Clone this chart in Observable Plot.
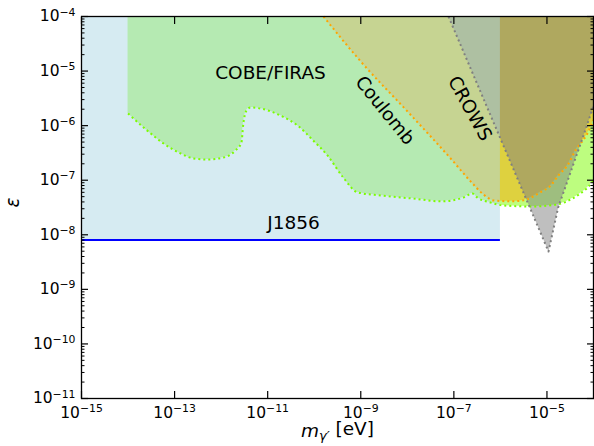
<!DOCTYPE html>
<html>
<head>
<meta charset="utf-8">
<script src="https://cdn.jsdelivr.net/npm/d3@7"></script>
<script src="https://cdn.jsdelivr.net/npm/@observablehq/plot@0.6"></script>
<style>
  body { margin: 0; background: #fff; }
  #chart svg { font-family: "DejaVu Sans", sans-serif; }
</style>
</head>
<body>
<div id="chart"></div>
<script>
// Dark photon limits: kinetic mixing ε versus mass m_γ' (eV)

// COBE/FIRAS lower boundary of the excluded region
const cobeMass = [1.0e-14, 2.6e-14, 5.8e-14, 1.34e-13, 2.55e-13, 5.1e-13, 1.12e-12, 2.03e-12, 2.73e-12,
  3.0e-12, 3.5e-12, 4.3e-12, 7.0e-12, 1.88e-11, 4.4e-11, 9.6e-11, 1.93e-10, 4.2e-10, 8.5e-10,
  2.65e-9, 1.36e-8, 5.2e-8, 1.6e-7, 2.5e-7, 3.2e-7, 6.1e-7, 1.16e-6, 4.4e-6, 1.68e-5, 3.5e-5,
  5.2e-5, 7.4e-5, 1.0e-4];
const cobeEps = [1.67e-6, 8.1e-7, 4.7e-7, 3.1e-7, 2.5e-7, 2.4e-7, 2.6e-7, 3.5e-7, 4.9e-7,
  1.09e-6, 1.89e-6, 2.15e-6, 2.06e-6, 1.53e-6, 1.0e-6, 5.3e-7, 2.84e-7, 1.12e-7, 6.0e-8,
  5.25e-8, 4.6e-8, 4.1e-8, 4.8e-8, 5.7e-8, 4.8e-8, 3.9e-8, 3.45e-8, 3.3e-8, 3.6e-8, 4.6e-8,
  5.7e-8, 7.3e-8, 9.9e-8];

// Coulomb-law test boundary
const coulombMass = [1.58e-10, 1.04e-9, 1.06e-8, 8.9e-8, 2.4e-7, 4.3e-7, 7.1e-7, 1.66e-6, 3.1e-6,
  7.2e-6, 1.19e-5, 1.77e-5, 2.75e-5, 4.1e-5, 7.4e-5, 1.0e-4];
const coulombEps = [1.0e-4, 1.44e-5, 1.74e-6, 2.4e-7, 9.1e-8, 5.5e-8, 4.27e-8, 4.1e-8, 4.27e-8,
  6.0e-8, 7.9e-8, 1.23e-7, 1.86e-7, 3.5e-7, 7.2e-7, 1.26e-6];

// CROWS light-shining-through-a-wall boundary (V shape)
const crowsMass = [7.66e-8, 1.08e-5, 1.74e-5, 5.9e-5, 1.0e-4];
const crowsEps = [1.0e-4, 4.94e-9, 3.16e-8, 6.1e-7, 2.3e-6];

// J1856 bound: constant ε below a maximum mass
const j1856Mass = [1e-15, 1e-6];
const j1856Eps = 8e-9;

// Region labels
const labelText = ["COBE/FIRAS", "Coulomb", "CROWS", "J1856"];
const labelMass = [1.15e-11, 3.3e-9, 2.2e-7, 3.6e-11];
const labelEps = [9.3e-6, 1.9e-6, 2.06e-6, 1.65e-8];
const labelAngle = [0, 51, 61, 0];

// Axis ticks
const xTicks = [1e-15, 1e-13, 1e-11, 1e-9, 1e-7, 1e-5];
const yTicks = [1e-11, 1e-10, 1e-9, 1e-8, 1e-7, 1e-6, 1e-5, 1e-4];
const yMinor = d3.range(-11, -4).flatMap(e => d3.range(2, 10).map(k => k * 10 ** e));

const xMin = 1e-15, xMax = 1e-4, yMin = 1e-11, yMax = 1e-4;

const cobe = cobeMass.map((m, i) => ({m, eps: cobeEps[i]}));
const coulomb = coulombMass.map((m, i) => ({m, eps: coulombEps[i]}));
const crows = crowsMass.map((m, i) => ({m, eps: crowsEps[i]}));
const crowsShape = [...crows, {m: xMax, eps: yMax}];
const labels = labelText.map((t, i) => ({t, m: labelMass[i], eps: labelEps[i], a: labelAngle[i]}));

const expo = v => String(Math.round(Math.log10(v))).replace("-", "\u2212");
const blank = () => "";
const dotted = {strokeWidth: 2, strokeDasharray: "2,3", strokeLinecap: "butt"};

const chart = Plot.plot({
  width: 594,
  height: 446,
  marginLeft: 81,
  marginRight: 1,
  marginTop: 16,
  marginBottom: 48,
  style: {fontFamily: "DejaVu Sans", fontSize: "15.5px", color: "black", background: "white", overflow: "visible"},
  x: {type: "log", domain: [xMin, xMax], axis: null},
  y: {type: "log", domain: [yMin, yMax], axis: null},
  marks: [
    Plot.areaY(cobe, {x: "m", y1: "eps", y2: yMax, fill: "#7cfc00", fillOpacity: 0.5, curve: "monotone-x"}),
    Plot.areaY(coulomb, {x: "m", y1: "eps", y2: yMax, fill: "#ffa500", fillOpacity: 0.5, curve: "monotone-x"}),
    Plot.line(crowsShape, {x: "m", y: "eps", fill: "#808080", fillOpacity: 0.5, stroke: null}),
    Plot.rect([j1856Eps], {x1: j1856Mass[0], x2: j1856Mass[1], y1: d => d, y2: yMax, fill: "#add8e6", fillOpacity: 0.5}),
    Plot.line(cobe, {x: "m", y: "eps", stroke: "#7cfc00", curve: "monotone-x", ...dotted}),
    Plot.line(coulomb, {x: "m", y: "eps", stroke: "#ffa500", curve: "monotone-x", ...dotted}),
    Plot.line(crows, {x: "m", y: "eps", stroke: "#808080", ...dotted}),
    Plot.ruleY([j1856Eps], {x1: j1856Mass[0], x2: j1856Mass[1], stroke: "#0000ff", strokeWidth: 2}),
    Plot.text(labels, {x: "m", y: "eps", text: "t", rotate: "a", fontSize: 18.5, fill: "black", textAnchor: "middle", lineAnchor: "middle"}),
    // inward ticks on all four sides
    Plot.axisX({anchor: "bottom", ticks: xTicks, tickSize: -7, tickFormat: blank, label: null, strokeWidth: 1.2}),
    Plot.axisX({anchor: "top", ticks: xTicks, tickSize: -7, tickFormat: blank, label: null, strokeWidth: 1.2}),
    Plot.axisY({anchor: "left", ticks: yTicks, tickSize: -7, tickFormat: blank, label: null, strokeWidth: 1.2}),
    Plot.axisY({anchor: "right", ticks: yTicks, tickSize: -7, tickFormat: blank, label: null, strokeWidth: 1.2}),
    Plot.axisY({anchor: "left", ticks: yMinor, tickSize: -3.5, tickFormat: blank, label: null, strokeWidth: 1}),
    Plot.axisY({anchor: "right", ticks: yMinor, tickSize: -3.5, tickFormat: blank, label: null, strokeWidth: 1}),
    // tick labels
    Plot.axisX({anchor: "bottom", ticks: xTicks, tickSize: 0, tickPadding: 8, tickFormat: expo, label: null}),
    Plot.axisY({anchor: "left", ticks: yTicks, tickSize: 0, tickPadding: 6, tickFormat: expo, label: null}),
    // axis titles
    Plot.text(["m"], {frameAnchor: "bottom", dy: 38, fontSize: 18.5, fill: "black"}),
    Plot.text(["ε"], {frameAnchor: "left", dx: -68, rotate: -90, fontSize: 18.5, fontStyle: "italic", fill: "black"}),
    Plot.frame({stroke: "black", strokeWidth: 1.3})
  ]
});

document.getElementById("chart").appendChild(chart);

// tick labels as powers of ten with raised exponents
d3.select(chart)
  .selectAll('g[aria-label="x-axis tick label"] text, g[aria-label="y-axis tick label"] text')
  .each(function () {
    const t = d3.select(this);
    const e = t.text();
    if (!e) return;
    t.text("10");
    t.append("tspan").attr("dy", "-0.55em").attr("font-size", "0.7em").text(e);
  });

// x-axis title with italic m and subscript γ′
d3.select(chart).selectAll("text")
  .filter(function () { return this.textContent === "m" && !this.closest('g[aria-label$="tick label"]'); })
  .each(function () {
    const t = d3.select(this);
    t.text("");
    t.append("tspan").attr("font-style", "italic").text("m");
    t.append("tspan").attr("font-style", "italic").attr("font-size", "0.7em").attr("dy", "0.3em").text("γ′");
    t.append("tspan").attr("dy", "-0.3em").text(" [eV]");
  });
</script>
</body>
</html>
